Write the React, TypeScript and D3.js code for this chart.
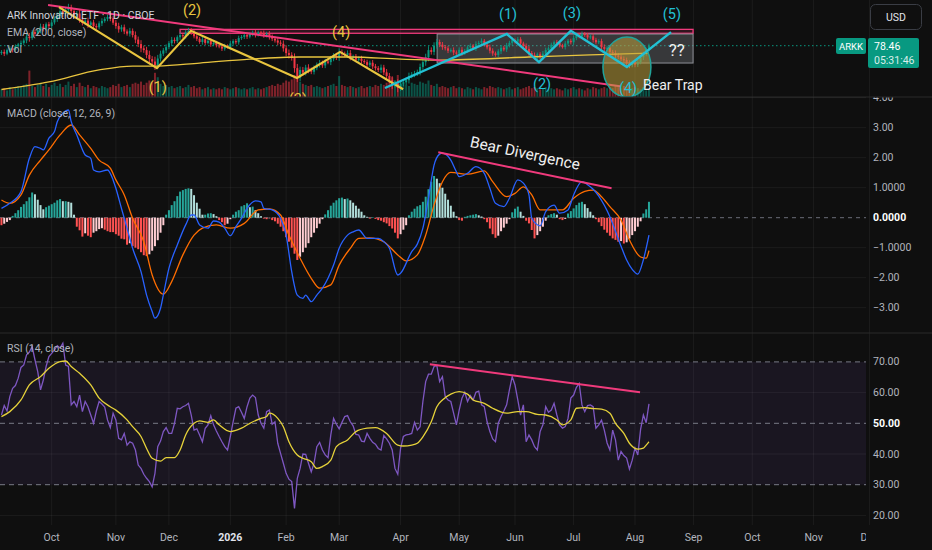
import React from "react";
import * as d3 from "d3";

const FONT = "Roboto, 'Liberation Sans', 'Noto Sans', sans-serif";
const BG = "#0f0f0f";
const PLOT_W = 866;

// ---- time axis (trading-day index, 0 = 1 Oct 2025) ----
const xTickLabels = ["Oct", "Nov", "Dec", "2026", "Feb", "Mar", "Apr", "May", "Jun", "Jul", "Aug", "Sep", "Oct", "Nov", "Dec"];
const xTickIdx = [0, 23, 42, 64, 84, 103, 125, 146, 166, 187, 209, 230, 251, 273, 293];
const firstIdx = -18;

// ---- price (daily closes) ----
const firstOpen = 76.0;
const closes = [
  76.4, 75.8, 77.0, 77.6, 77.1, 78.3, 78.9, 79.4,
  80.2, 81.5, 81.0, 83.0, 82.4, 83.6, 84.8, 84.1, 85.6, 85.0,
  86.2, 87.5, 88.4, 89.9, 89.0, 90.4, 91.2, 90.0, 88.6, 89.2,
  87.2, 86.0, 86.8, 85.4, 86.2, 85.0, 84.6, 85.9, 86.7, 87.4,
  88.0, 87.6, 86.1, 85.0, 83.9, 84.6, 83.2, 82.5, 83.4, 82.0,
  80.5, 79.0, 77.6, 77.0, 75.4, 74.0, 73.2, 72.0, 74.2, 75.8,
  76.9, 78.0, 79.3, 80.4, 80.0, 81.3, 82.0, 81.6, 82.9, 83.4,
  83.0, 81.6, 80.8, 79.7, 80.6, 79.4, 80.1, 78.9, 79.4, 78.6,
  78.2, 77.5, 78.4, 78.0, 79.2, 80.0, 79.6, 81.0, 81.4, 82.0,
  81.5, 82.3, 82.8, 82.1, 82.9, 82.7, 81.9, 82.4, 81.4, 80.8,
  80.2, 79.5, 79.1, 77.6, 76.0, 75.4, 74.4, 71.0, 67.8, 70.4,
  69.5, 71.2, 70.4, 69.8, 71.0, 72.2, 72.7, 71.9, 73.2, 73.0,
  74.1, 75.2, 74.6, 76.4, 75.8, 75.4, 76.0, 74.6, 74.9, 73.8,
  74.2, 73.4, 73.0, 72.1, 72.8, 71.6, 71.0, 70.4, 71.2, 69.6,
  68.4, 67.0, 65.4, 65.9, 64.4, 65.8, 66.3, 67.0, 68.4, 68.9,
  69.2, 69.7, 71.4, 73.0, 74.6, 77.0, 76.4, 78.5, 79.7, 78.8,
  78.0, 77.6, 76.8, 77.0, 76.2, 75.8, 77.1, 76.0, 76.8, 77.9,
  78.4, 77.6, 79.0, 79.4, 80.1, 78.8, 77.9, 76.8, 75.9, 75.4,
  76.6, 77.8, 77.2, 78.6, 79.4, 80.3, 79.8, 80.6, 79.2, 78.4,
  77.4, 76.0, 75.4, 74.6, 75.6, 74.7, 75.8, 77.0, 77.6, 78.8,
  79.6, 79.4, 78.6, 78.0, 79.2, 80.1, 79.6, 81.0, 82.1, 81.5,
  82.4, 82.0, 81.2, 81.6, 80.4, 79.6, 80.0, 78.0, 77.4, 77.8,
  76.4, 76.0, 75.2, 74.8, 74.0, 73.7, 72.6, 72.0, 72.9, 72.2,
  73.0, 74.6, 75.6, 77.2, 78.46,
];
const lastPrice = 78.46;

// wick extension beyond the body, in $
const wicks = [
  0.6, 0.8, 0.5, 0.7, 0.9, 0.6, 0.5, 0.8,
  0.7, 0.9, 1.2, 0.6, 0.8, 0.7, 1.0, 0.9, 0.6, 0.8,
  0.9, 0.7, 1.1, 0.8, 1.0, 0.7, 1.2, 0.9, 1.0, 0.8,
  1.1, 0.8, 0.7, 1.0, 0.6, 0.9, 0.8, 0.7, 0.9, 0.6,
  0.8, 1.0, 0.7, 0.9, 1.1, 0.8, 0.9, 0.7, 1.0, 0.8,
  1.2, 1.0, 1.3, 0.9, 1.1, 1.4, 1.0, 1.6, 1.2, 1.0,
  0.8, 0.9, 0.7, 1.0, 0.8, 0.6, 0.9, 0.7, 0.8, 1.0,
  0.9, 0.7, 0.8, 0.6, 0.9, 0.7, 0.5, 0.8, 0.6, 0.7,
  0.6, 0.8, 0.7, 0.5, 0.9, 0.6, 0.7, 0.8, 0.6, 0.7,
  0.8, 0.6, 0.7, 0.9, 0.6, 0.5, 0.8, 0.7, 0.9, 0.8,
  0.7, 0.9, 0.8, 1.1, 1.0, 1.2, 0.9, 1.5, 1.4, 1.1,
  1.0, 0.9, 1.1, 0.8, 0.9, 0.7, 1.0, 0.8, 0.9, 0.7,
  1.0, 0.8, 0.9, 1.2, 0.8, 0.7, 0.9, 1.0, 0.6, 0.8,
  0.7, 0.9, 0.6, 0.8, 0.7, 0.9, 0.8, 0.7, 1.0, 0.9,
  1.1, 1.0, 1.3, 0.9, 1.4, 1.0, 0.8, 0.9, 1.1, 0.8,
  0.9, 0.8, 1.1, 1.0, 1.2, 1.3, 0.9, 1.1, 1.0, 0.8,
  0.9, 0.7, 0.8, 0.6, 0.9, 0.7, 0.8, 0.9, 0.6, 0.7,
  0.8, 0.6, 0.9, 0.7, 0.8, 0.6, 0.7, 0.9, 0.8, 0.6,
  0.7, 0.9, 0.6, 0.8, 0.7, 0.9, 0.6, 0.8, 0.7, 0.6,
  0.8, 0.9, 0.7, 0.8, 0.6, 0.7, 0.9, 0.8, 0.6, 0.7,
  0.6, 0.8, 0.7, 0.5, 0.8, 0.6, 0.7, 0.9, 0.7, 0.6,
  0.8, 0.6, 0.7, 0.6, 0.9, 0.7, 0.6, 0.8, 0.9, 0.7,
  0.8, 0.7, 0.9, 0.8, 0.7, 0.9, 0.8, 1.0, 0.7, 0.9,
  0.8, 0.7, 0.9, 0.6, 0.7,
];

const volumes = [
  7, 8, 6, 9, 7, 8, 10, 9,
  11, 12, 24, 10, 9, 11, 13, 10, 12, 9,
  11, 13, 10, 12, 9, 11, 14, 10, 12, 9,
  13, 10, 9, 11, 8, 10, 9, 8, 10, 9,
  8, 9, 11, 10, 12, 9, 10, 11, 9, 12,
  13, 12, 14, 11, 13, 15, 14, 22, 18, 12,
  10, 11, 9, 10, 8, 9, 10, 8, 9, 11,
  9, 10, 8, 9, 7, 8, 9, 7, 8, 7,
  8, 7, 9, 8, 7, 8, 9, 8, 7, 8,
  7, 8, 9, 7, 8, 7, 8, 9, 10, 11,
  10, 12, 11, 13, 15, 14, 16, 20, 19, 14,
  12, 11, 10, 11, 9, 10, 9, 8, 9, 10,
  11, 12, 10, 19, 11, 10, 9, 10, 9, 8,
  9, 10, 8, 9, 10, 9, 11, 10, 12, 11,
  13, 14, 18, 15, 20, 14, 12, 11, 10, 13,
  12, 11, 14, 13, 12, 15, 11, 10, 12, 9,
  10, 9, 8, 9, 10, 8, 9, 8, 7, 9,
  8, 7, 9, 8, 7, 9, 8, 10, 9, 8,
  9, 8, 7, 8, 9, 7, 8, 9, 7, 8,
  9, 10, 8, 9, 8, 7, 8, 9, 7, 8,
  7, 8, 7, 6, 8, 7, 8, 9, 7, 8,
  7, 6, 8, 7, 9, 8, 7, 8, 9, 8,
  9, 8, 10, 9, 8, 10, 9, 11, 8, 9,
  8, 7, 9, 6, 7,
];

// EMA 200 [index, price]
const ema200 = [
  [-18, 63.9], [-1, 66.4], [17, 70.4], [29, 71.7], [38, 71.7], [53, 72.7], [71, 74.0],
  [89, 74.7], [107, 74.7], [125, 74.0], [139, 73.7], [171, 74.7], [193, 75.4], [214, 76.0],
];

// ---- MACD ----
const histogram = [
  -0.25, -0.2, -0.14, -0.08, 0.06, 0.15, 0.25, 0.36,
  0.45, 0.55, 0.68, 0.84, 0.78, 0.6, 0.42, 0.28, 0.35, 0.4,
  0.45, 0.5, 0.58, 0.62, 0.55, 0.55, 0.53, 0.5, 0.1, -0.3,
  -0.42, -0.63, -0.52, -0.6, -0.65, -0.5, -0.45, -0.38, -0.35, -0.4,
  -0.45, -0.48, -0.48, -0.55, -0.6, -0.7, -0.72, -0.9, -0.85, -0.95,
  -1.0, -1.05, -1.15, -1.25, -1.28, -1.22, -1.1, -0.95, -0.75, -0.5,
  -0.25, 0.1, 0.25, 0.42, 0.55, 0.72, 0.87, 0.92, 0.96, 0.98,
  0.96, 0.75, 0.5, 0.3, 0.1, 0.1, 0.14, 0.15, 0.12, 0.05,
  -0.08, -0.15, -0.25, -0.2, -0.05, 0.1, 0.2, 0.25, 0.38, 0.42,
  0.48, 0.35, 0.37, 0.25, 0.15, 0.05, -0.03, -0.05, -0.02, -0.08,
  -0.12, -0.2, -0.3, -0.45, -0.65, -0.8, -1.0, -1.2, -1.41, -1.3,
  -1.15, -1.0, -0.85, -0.65, -0.5, -0.35, -0.2, -0.05, 0.11, 0.25,
  0.4, 0.5, 0.58, 0.65, 0.67, 0.62, 0.64, 0.58, 0.5, 0.4,
  0.3, 0.2, 0.08, 0.03, -0.03, 0.02, -0.04, -0.08, -0.1, -0.15,
  -0.19, -0.28, -0.36, -0.5, -0.69, -0.55, -0.4, -0.25, 0.08, 0.2,
  0.3, 0.38, 0.42, 0.53, 0.7, 0.95, 1.2, 1.39, 1.3, 1.15,
  1.0, 0.8, 0.6, 0.4, 0.2, 0.05, -0.08, -0.1, 0.03, 0.06,
  0.08, 0.1, 0.12, 0.08, 0.04, -0.05, -0.15, -0.36, -0.55, -0.67,
  -0.6, -0.45, -0.33, -0.2, -0.05, 0.18, 0.3, 0.37, 0.2, 0.06,
  -0.1, -0.19, -0.41, -0.69, -0.58, -0.45, -0.3, -0.1, 0.08, 0.12,
  0.15, 0.1, -0.05, -0.08, -0.04, 0.14, 0.22, 0.31, 0.42, 0.5,
  0.53, 0.45, 0.32, 0.2, 0.08, -0.05, -0.15, -0.28, -0.4, -0.5,
  -0.6, -0.69, -0.74, -0.8, -0.78, -0.86, -0.82, -0.7, -0.58, -0.45,
  -0.3, -0.12, 0.14, 0.28, 0.53,
];

const macdLine = [
  [-18, 0.31], [-15, 0.48], [-11, 0.87], [-8, 1.98], [-6, 2.37], [-4, 2.31], [-3, 2.26], [-1, 2.65],
  [1, 2.87], [2, 3.2], [4, 3.48], [6, 3.59], [7, 3.2], [9, 2.76], [12, 2.09], [14, 1.98], [15, 1.59],
  [17, 1.53], [20, 1.59], [22, 1.26], [23, 0.98], [25, 0.31], [27, -0.35], [29, -1.02], [32, -1.8],
  [34, -2.58], [36, -3.13], [37, -3.35], [39, -3.02], [40, -2.58], [42, -1.69], [45, -0.91], [48, -0.24],
  [50, 0.09], [51, 0.09], [53, -0.24], [56, -0.35], [58, -0.11], [60, -0.15], [62, -0.35], [64, -0.6],
  [66, -0.3], [68, -0.02], [70, 0.31], [73, 0.56], [75, 0.53], [76, 0.31], [79, 0.26], [82, -0.02],
  [84, -0.58], [86, -1.8], [88, -2.58], [90, -2.69], [91, -2.58], [93, -2.8], [95, -2.58], [97, -2.35],
  [99, -2.02], [101, -1.58], [103, -1.02], [106, -0.58], [108, -0.47], [110, -0.41], [113, -0.69],
  [117, -0.69], [119, -0.8], [121, -1.02], [124, -1.91], [125, -1.85], [129, -1.13], [131, -0.88],
  [133, -0.35], [135, 0.65], [137, 1.75], [139, 2.12], [140, 2.15], [143, 1.92], [145, 1.53], [146, 1.37],
  [149, 1.48], [152, 1.7], [155, 1.48], [157, 0.98], [159, 0.48], [162, 0.37], [164, 0.65], [167, 1.26],
  [169, 1.15], [171, 0.76], [172, -0.02], [175, -0.27], [177, 0.2], [180, 0.42], [182, 0.15], [185, 0.26],
  [187, 0.76], [190, 1.2], [192, 1.1], [194, 0.95], [196, 0.72], [200, 0.03], [202, -0.45], [204, -0.95],
  [206, -1.41], [208, -1.72], [210, -1.88], [212, -1.4], [214, -0.58],
];

const signalLine = [
  [-18, 0.59], [-15, 0.48], [-11, 0.76], [-8, 1.42], [-4, 1.92], [-1, 2.26], [3, 2.76], [7, 3.09],
  [10, 2.76], [14, 2.31], [17, 1.92], [21, 1.65], [23, 1.26], [26, 0.76], [29, -0.02], [33, -0.8],
  [36, -1.91], [40, -2.55], [43, -2.13], [47, -1.24], [51, -0.58], [54, -0.35], [59, -0.24], [64, -0.35],
  [69, -0.19], [74, 0.26], [78, 0.29], [82, 0.09], [85, -0.58], [89, -1.35], [93, -2.02], [96, -2.35],
  [100, -2.24], [103, -1.58], [107, -1.02], [110, -0.69], [114, -0.67], [119, -0.8], [124, -1.24],
  [127, -1.44], [131, -1.24], [134, -0.58], [137, 0.42], [140, 1.2], [143, 1.51], [149, 1.45], [155, 1.56],
  [158, 1.2], [163, 0.7], [166, 0.81], [169, 1.03], [172, 0.76], [175, 0.26], [179, 0.26], [183, 0.26],
  [187, 0.65], [191, 0.88], [194, 0.92], [197, 0.7], [200, 0.37], [204, -0.08], [207, -0.74], [211, -1.31],
  [213, -1.35], [214, -1.1],
];

const macdTickVals = [4, 3, 2, 1, 0, -1, -2, -3];
const macdTickLabels = ["4.00", "3.00", "2.00", "1.0000", "0.0000", "\u22121.0000", "\u22122.00", "\u22123.00"];

// ---- RSI ----
const rsi = [
  52.7, 55.8, 54.0, 58.7, 61.4, 62.3, 64.7, 68.2,
  69.0, 72.3, 73.2, 75.0, 70.7, 66.8, 60.9, 64.1, 68.5, 71.7,
  72.8, 73.9, 75.3, 74.5, 76.1, 69.0, 68.5, 56.0, 57.1, 55.4,
  59.2, 53.8, 57.1, 55.4, 52.7, 50.0, 54.0, 57.1, 56.3, 55.3,
  51.1, 48.6, 53.3, 51.1, 45.1, 44.6, 46.7, 42.9, 44.0, 43.5,
  41.3, 36.4, 35.3, 33.4, 32.1, 31.0, 29.3, 33.7, 42.4, 44.2,
  47.3, 48.6, 46.7, 46.7, 50.0, 54.9, 54.7, 55.4, 55.8, 56.5,
  52.7, 47.8, 48.2, 46.2, 44.0, 48.4, 49.5, 52.5, 49.5, 47.5,
  45.7, 44.0, 42.4, 41.3, 45.7, 50.5, 54.9, 55.4, 53.6, 51.6,
  55.4, 58.2, 59.2, 58.4, 52.7, 50.0, 48.4, 53.8, 54.3, 49.7,
  50.5, 43.5, 40.2, 37.0, 33.7, 31.8, 31.0, 22.3, 32.1, 35.3,
  40.0, 39.9, 37.0, 34.2, 37.0, 42.4, 43.8, 41.3, 39.7, 38.8,
  46.2, 51.6, 49.7, 48.2, 50.3, 52.2, 52.5, 50.5, 49.2, 46.4,
  46.2, 44.2, 44.0, 46.7, 45.1, 43.8, 43.2, 41.8, 41.3, 46.0,
  44.9, 43.5, 41.3, 35.3, 33.4, 41.8, 45.7, 46.2, 46.4, 46.7,
  50.3, 47.8, 48.9, 57.1, 63.6, 66.0, 66.0, 68.5, 68.8, 63.6,
  65.2, 58.7, 57.6, 57.1, 53.3, 49.5, 54.3, 58.2, 60.1, 57.1,
  59.0, 57.6, 60.1, 60.5, 56.0, 55.4, 50.5, 47.3, 44.9, 44.0,
  50.0, 52.2, 54.0, 56.0, 60.9, 65.2, 62.5, 57.6, 52.7, 56.0,
  44.0, 46.2, 44.6, 42.4, 41.3, 47.3, 49.5, 55.4, 53.6, 54.3,
  56.5, 52.7, 49.5, 48.4, 48.9, 51.6, 58.2, 59.2, 61.7, 63.0,
  56.0, 53.8, 55.8, 56.0, 55.4, 48.4, 49.5, 51.0, 47.8, 43.6,
  41.3, 47.8, 44.6, 38.0, 40.8, 39.5, 38.7, 35.1, 38.0, 42.0,
  39.7, 48.0, 52.7, 50.2, 56.3,
];

const rsiMA = [
  [-18, 52.2], [-15, 53.8], [-11, 57.6], [-8, 62.5], [-4, 65.2], [-1, 67.9], [3, 70.1], [5, 70.3],
  [7, 68.5], [10, 66.3], [14, 62.5], [17, 58.2], [21, 55.4], [23, 54.3], [27, 51.1], [29, 48.9],
  [32, 45.7], [34, 41.8], [36, 38.6], [39, 37.7], [41, 38.8], [44, 38.8], [46, 41.3], [48, 46.2],
  [51, 50.0], [53, 50.8], [56, 50.3], [58, 51.1], [60, 49.5], [64, 47.3], [68, 48.4], [71, 50.0],
  [75, 51.6], [77, 52.2], [78, 53.3], [81, 51.6], [83, 48.9], [85, 44.0], [88, 39.7], [90, 38.6],
  [93, 37.5], [95, 35.3], [97, 35.9], [100, 38.0], [102, 42.4], [106, 44.6], [109, 47.3], [113, 48.4],
  [116, 48.6], [120, 46.7], [124, 42.9], [126, 42.6], [129, 42.9], [131, 43.5], [133, 45.6], [136, 50.5],
  [138, 55.4], [140, 57.6], [143, 59.5], [146, 60.3], [149, 59.5], [151, 57.6], [155, 56.5], [158, 54.9],
  [163, 53.3], [167, 53.8], [170, 53.8], [174, 52.9], [177, 52.7], [181, 51.1], [183, 49.5], [186, 51.1],
  [188, 54.9], [191, 55.1], [193, 54.9], [197, 54.6], [200, 53.3], [202, 50.0], [205, 46.7], [207, 43.5],
  [210, 41.6], [212, 41.9], [213, 42.9], [214, 44.0],
];

const rsiTickVals = [70, 60, 50, 40, 30, 20];
const rsiTickLabels = ["70.00", "60.00", "50.00", "40.00", "30.00", "20.00"];

// ---- drawings (index, value) ----
const yellowWave = [[2.6, 91.3], [37.7, 71.0], [49.9, 83.4], [87.9, 67.7], [103.3, 76.4], [125.9, 64.0]];
const yellowLabels = ["(1)", "(2)", "(3)", "(4)"];
const yellowLabelPos = [[38, 64.4], [50.3, 90.3], [88.2, 60.7], [103.7, 82.7]];
const cyanWave = [[119.4, 64.4], [163.1, 82.35], [174.6, 73.0], [186, 83.4], [206.1, 71.4], [221.9, 83.0]];
const cyanLabels = ["(1)", "(2)", "(3)", "(4)", "(5)"];
const cyanLabelPos = [[163.5, 88.7], [175.7, 65.4], [186.4, 89.3], [206.5, 64.1], [222.2, 89.0]];
const rangeBox = [[138.1, 82.35], [229.8, 72.7]];
const resistBox = [[46, 83.9], [229.8, 82.6]];
const downTrend = [[-1.3, 92.0], [203.6, 65.0]];
const trapCircle = [206.1, 71.4, 8.6, 10];
const trapText = [211.9, 65.4];
const qText = [224, 77.0];
const macdDiv = [[138.5, 2.18], [200.6, 0.98]];
const macdDivText = [169.6, 2.14];
const rsiDiv = [[135.5, 69.2], [210.8, 60.1]];

export default function App() {
  const x = d3.scaleLinear().domain([-18.52, 291.76]).range([0, PLOT_W]);
  const yP = d3.scaleLinear().domain([62, 93.5]).range([95.2, 0.5]);
  const yV = d3.scaleLinear().domain([0, 30]).range([97, 64]);
  const yM = d3.scaleLinear().domain([0, 1]).range([217.7, 187.7]);
  const yR = d3.scaleLinear().domain([50, 70]).range([423.3, 361.9]);

  const up = "#089981";
  const down = "#f23645";
  const pink = "#f03a7c";
  const yellow = "#e9c53f";
  const cyan = "#22c0d4";
  const grid = "rgba(255,255,255,0.055)";
  const axisText = "#b2b5be";
  const fs = 10.5;

  const n = Math.min(closes.length, volumes.length, wicks.length);
  const candles = d3.range(n).map((i) => {
    const o = i === 0 ? firstOpen : closes[i - 1];
    const c = closes[i];
    return { idx: firstIdx + i, o, c, w: wicks[i], v: volumes[i], upBar: c >= o };
  });

  const lineP = d3.line<number[]>().x((d) => x(d[0])).y((d) => yP(d[1])).curve(d3.curveMonotoneX);
  const lineM = d3.line<number[]>().x((d) => x(d[0])).y((d) => yM(d[1])).curve(d3.curveMonotoneX);
  const lineR = d3.line<number[]>().x((d) => x(d[0])).y((d) => yR(d[1])).curve(d3.curveMonotoneX);
  const straightP = d3.line<number[]>().x((d) => x(d[0])).y((d) => yP(d[1]));
  const rsiPath = d3.line<number>().x((_, i) => x(firstIdx + i)).y((d) => yR(d))(rsi) || "";

  const histBars = histogram.map((v, i) => {
    const prev = i === 0 ? v : histogram[i - 1];
    let col;
    if (v >= 0) col = v >= prev ? "#26a69a" : "#b2dfdb";
    else col = v <= prev ? "#ff5252" : "#ffcdd2";
    return { idx: firstIdx + i, v, col };
  });

  const bw = 2;
  const bottom = 525;

  return (
    <svg
      width={932}
      height={550}
      style={{ position: "fixed", left: 0, top: 0, background: BG, fontFamily: FONT }}
    >
      <defs>
        <clipPath id="cp-price"><rect x={0} y={0} width={PLOT_W} height={97} /></clipPath>
        <clipPath id="cp-macd"><rect x={0} y={97} width={PLOT_W} height={236} /></clipPath>
        <clipPath id="cp-rsi"><rect x={0} y={333} width={PLOT_W} height={bottom - 333} /></clipPath>
        <clipPath id="cp-maxis"><rect x={PLOT_W} y={97.5} width={66} height={236} /></clipPath>
        <clipPath id="cp-xaxis"><rect x={0} y={bottom} width={PLOT_W} height={30} /></clipPath>
      </defs>
      <rect x={0} y={0} width={932} height={550} fill={BG} />

      {/* vertical grid */}
      {xTickIdx.map((t, i) => (
        <line key={"vg" + i} x1={x(t)} x2={x(t)} y1={0} y2={bottom} stroke={grid} />
      ))}

      {/* ===== PRICE PANEL ===== */}
      <g clipPath="url(#cp-price)">
        {candles.map((d, i) => (
          <rect
            key={"v" + i}
            x={x(d.idx) - bw / 2}
            width={bw}
            y={yV(d.v)}
            height={97 - yV(d.v)}
            fill={d.upBar ? up : down}
            opacity={0.5}
          />
        ))}
        <line x1={0} x2={836} y1={yP(lastPrice)} y2={yP(lastPrice)} stroke={up} strokeDasharray="1.5 2.5" />
        <rect
          x={x(resistBox[0][0])}
          y={yP(resistBox[0][1])}
          width={x(resistBox[1][0]) - x(resistBox[0][0])}
          height={yP(resistBox[1][1]) - yP(resistBox[0][1])}
          fill="rgba(240,58,124,0.15)"
          stroke={pink}
          strokeWidth={1.3}
        />
        <rect
          x={x(rangeBox[0][0])}
          y={yP(rangeBox[0][1])}
          width={x(rangeBox[1][0]) - x(rangeBox[0][0])}
          height={yP(rangeBox[1][1]) - yP(rangeBox[0][1])}
          fill="rgba(150,152,160,0.3)"
          stroke="#8d8f96"
          strokeWidth={1}
        />
        {candles.map((d, i) => {
          const hi = Math.max(d.o, d.c);
          const lo = Math.min(d.o, d.c);
          const y1 = yP(hi);
          const y2 = yP(lo);
          const col = d.upBar ? up : down;
          return (
            <g key={"c" + i}>
              <line x1={x(d.idx)} x2={x(d.idx)} y1={yP(hi + d.w)} y2={yP(lo - d.w)} stroke={col} strokeWidth={0.9} />
              <rect x={x(d.idx) - bw / 2} width={bw} y={y1} height={Math.max(1.2, y2 - y1)} fill={col} />
            </g>
          );
        })}
        <path d={lineP(ema200) || ""} fill="none" stroke={yellow} strokeWidth={1.3} />
        <line
          x1={x(downTrend[0][0])}
          y1={yP(downTrend[0][1])}
          x2={x(downTrend[1][0])}
          y2={yP(downTrend[1][1])}
          stroke={pink}
          strokeWidth={2}
        />
        <path d={straightP(yellowWave) || ""} fill="none" stroke={yellow} strokeWidth={2.2} />
        <ellipse
          cx={x(trapCircle[0])}
          cy={yP(trapCircle[1])}
          rx={x(trapCircle[0] + trapCircle[2]) - x(trapCircle[0])}
          ry={yP(trapCircle[1] - trapCircle[3]) - yP(trapCircle[1])}
          fill="rgba(190,160,60,0.55)"
          stroke="#22a39a"
          strokeWidth={1.5}
        />
        <path d={straightP(cyanWave) || ""} fill="none" stroke={cyan} strokeWidth={2.4} />
        {yellowLabels.map((t, i) => (
          <text
            key={"yl" + i}
            x={x(yellowLabelPos[i][0])}
            y={yP(yellowLabelPos[i][1])}
            fill={yellow}
            fontSize={14.5}
            textAnchor="middle"
            dominantBaseline="central"
          >
            {t}
          </text>
        ))}
        {cyanLabels.map((t, i) => (
          <text
            key={"cl" + i}
            x={x(cyanLabelPos[i][0])}
            y={yP(cyanLabelPos[i][1])}
            fill={cyan}
            fontSize={14.5}
            textAnchor="middle"
            dominantBaseline="central"
          >
            {t}
          </text>
        ))}
        <text x={x(qText[0])} y={yP(qText[1])} fill="#f0f0f0" fontSize={17} textAnchor="middle" dominantBaseline="central">
          ??
        </text>
        <text x={x(trapText[0])} y={yP(trapText[1])} fill="#f0f0f0" fontSize={14} dominantBaseline="central">
          Bear Trap
        </text>
      </g>
      <text x={7} y={19} fill="#d1d4dc" fontSize={fs}>ARK Innovation ETF · 1D · CBOE</text>
      <text x={7} y={36} fill="#b2b5be" fontSize={fs}>EMA (200, close)</text>
      <text x={7} y={53} fill="#b2b5be" fontSize={fs}>Vol</text>

      {/* price axis widgets */}
      <rect x={870.5} y={4.5} width={51} height={25} rx={5} fill={BG} stroke="#3a3d45" />
      <text x={896} y={17} fill="#e0e3eb" fontSize={10.5} textAnchor="middle" dominantBaseline="central">USD</text>
      <rect x={836} y={38} width={30} height={16} rx={2} fill={up} />
      <text x={851} y={46.5} fill="#ffffff" fontSize={9.5} textAnchor="middle" dominantBaseline="central">ARKK</text>
      <rect x={868} y={38} width={51} height={30} rx={2} fill={up} />
      <text x={874} y={46.5} fill="#ffffff" fontSize={fs} dominantBaseline="central">{lastPrice.toFixed(2)}</text>
      <text x={874} y={60.5} fill="rgba(255,255,255,0.85)" fontSize={fs} dominantBaseline="central">05:31:46</text>

      <line x1={0} x2={932} y1={97} y2={97} stroke="#2b2b2b" />

      {/* ===== MACD PANEL ===== */}
      {macdTickVals.map((v, i) =>
        v !== 0 ? <line key={"mg" + i} x1={0} x2={PLOT_W} y1={yM(v)} y2={yM(v)} stroke={grid} /> : null
      )}
      <g clipPath="url(#cp-macd)">
        <line x1={0} x2={PLOT_W} y1={yM(0)} y2={yM(0)} stroke="#6a6d78" strokeDasharray="4 4" />
        {histBars.map((d, i) => (
          <rect
            key={"h" + i}
            x={x(d.idx) - bw / 2}
            width={bw}
            y={Math.min(yM(0), yM(d.v))}
            height={Math.abs(yM(d.v) - yM(0))}
            fill={d.col}
          />
        ))}
        <path d={lineM(signalLine) || ""} fill="none" stroke="#ff6d00" strokeWidth={1.3} />
        <path d={lineM(macdLine) || ""} fill="none" stroke="#2962ff" strokeWidth={1.3} />
        <line
          x1={x(macdDiv[0][0])}
          y1={yM(macdDiv[0][1])}
          x2={x(macdDiv[1][0])}
          y2={yM(macdDiv[1][1])}
          stroke={pink}
          strokeWidth={2}
        />
        <text
          x={x(macdDivText[0])}
          y={yM(macdDivText[1])}
          fill="#f0f0f0"
          fontSize={15.5}
          textAnchor="middle"
          dominantBaseline="central"
          transform={`rotate(12 ${x(macdDivText[0])} ${yM(macdDivText[1])})`}
        >
          Bear Divergence
        </text>
      </g>
      <text x={7} y={117} fill="#b2b5be" fontSize={fs}>MACD (close, 12, 26, 9)</text>
      <g clipPath="url(#cp-maxis)">
        {macdTickVals.map((v, i) => (
          <text
            key={"mt" + i}
            x={873}
            y={yM(v)}
            fill={v === 0 ? "#ffffff" : axisText}
            fontWeight={v === 0 ? 700 : 400}
            fontSize={fs}
            dominantBaseline="central"
          >
            {macdTickLabels[i]}
          </text>
        ))}
      </g>

      <line x1={0} x2={932} y1={333} y2={333} stroke="#2b2b2b" />

      {/* ===== RSI PANEL ===== */}
      <rect x={0} y={yR(70)} width={PLOT_W} height={yR(30) - yR(70)} fill="rgba(126,87,194,0.1)" />
      {rsiTickVals.map((v, i) =>
        v % 20 !== 10 ? (
          <line key={"rg" + i} x1={0} x2={PLOT_W} y1={yR(v)} y2={yR(v)} stroke={grid} />
        ) : null
      )}
      {[70, 50, 30].map((v) => (
        <line key={"rd" + v} x1={0} x2={PLOT_W} y1={yR(v)} y2={yR(v)} stroke="#787b86" strokeDasharray="5 4" />
      ))}
      <g clipPath="url(#cp-rsi)">
        <path d={rsiPath} fill="none" stroke="#7e57c2" strokeWidth={1.3} />
        <path d={lineR(rsiMA) || ""} fill="none" stroke="#e6d23a" strokeWidth={1.3} />
        <line
          x1={x(rsiDiv[0][0])}
          y1={yR(rsiDiv[0][1])}
          x2={x(rsiDiv[1][0])}
          y2={yR(rsiDiv[1][1])}
          stroke={pink}
          strokeWidth={2}
        />
      </g>
      <text x={7} y={352} fill="#b2b5be" fontSize={fs}>RSI (14, close)</text>
      {rsiTickVals.map((v, i) => (
        <text
          key={"rt" + i}
          x={873}
          y={yR(v)}
          fill={v === 50 ? "#ffffff" : axisText}
          fontWeight={v === 50 ? 700 : 400}
          fontSize={fs}
          dominantBaseline="central"
        >
          {rsiTickLabels[i]}
        </text>
      ))}

      {/* ===== TIME AXIS ===== */}
      <g clipPath="url(#cp-xaxis)">
        {xTickLabels.map((t, i) => (
          <text
            key={"xt" + i}
            x={x(xTickIdx[i])}
            y={537.5}
            fill={t === "2026" ? "#e0e3eb" : axisText}
            fontWeight={t === "2026" ? 700 : 400}
            fontSize={fs}
            textAnchor="middle"
            dominantBaseline="central"
          >
            {t}
          </text>
        ))}
      </g>
    </svg>
  );
}
